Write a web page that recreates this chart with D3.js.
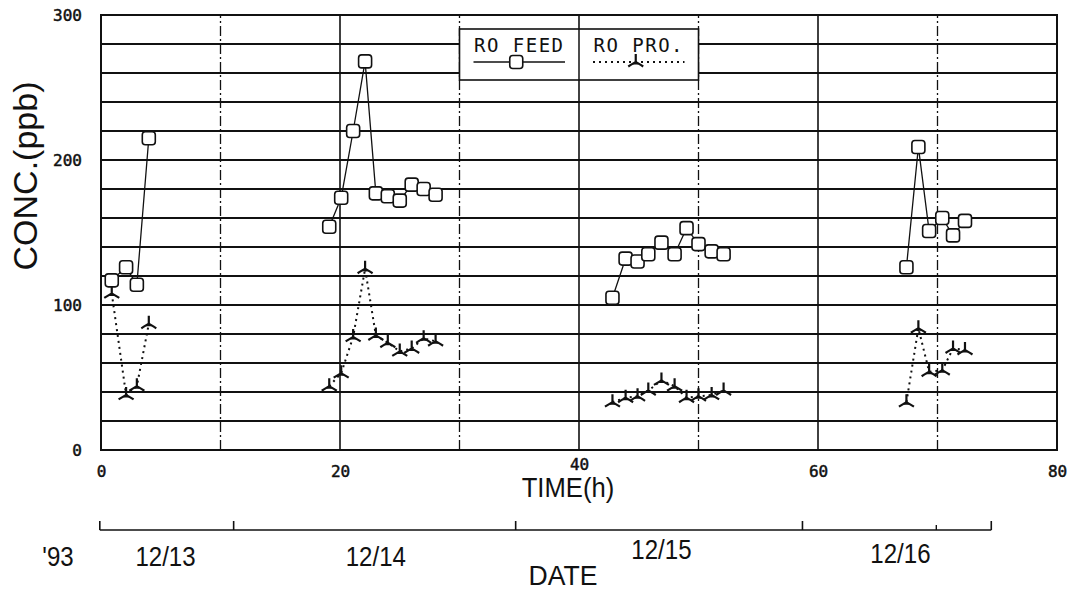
<!DOCTYPE html>
<html><head><meta charset="utf-8">
<script src="https://cdn.jsdelivr.net/npm/d3@7"></script>
<style>body{margin:0;background:#fff} svg{display:block}</style>
</head><body><svg id="c" width="1078" height="591"></svg>
<script>
// ---- data ----
const yTicks = [0, 100, 200, 300];
const xTicks = [0, 20, 40, 60, 80];
const hours13 = [0.9, 2.1, 3.0, 4.0];
const feed13  = [117, 126, 114, 215];
const pro13   = [108, 38, 44, 87];
const hours14 = [19.1, 20.1, 21.1, 22.1, 23.0, 24.0, 25.0, 26.0, 27.0, 28.0];
const feed14  = [154, 174, 220, 268, 177, 175, 172, 183, 180, 176];
const pro14   = [44, 53, 78, 125, 79, 74, 68, 70, 77, 75];
const hours15 = [42.8, 43.9, 44.9, 45.8, 46.9, 48.0, 49.0, 50.0, 51.1, 52.1];
const feed15  = [105, 132, 130, 135, 143, 135, 153, 142, 137, 135];
const pro15   = [33, 36, 37, 41, 48, 44, 36, 37, 38, 41];
const hours16 = [67.4, 68.4, 69.3, 70.4, 71.3, 72.3];
const feed16  = [126, 209, 151, 160, 148, 158];
const pro16   = [33, 84, 54, 55, 70, 69];
const dateLabels = ["12/13", "12/14", "12/15", "12/16"];
const dateLabelHours = [5.4, 23.0, 46.9, 66.9];
const dayBreakHours = [11.1, 34.7, 58.7];
const minorDateTicks = [69.9];
const dateAxisSpan = [-0.1, 74.5];
const legendNames = ["RO FEED", "RO PRO."];

const groups = [
  {h: hours13, f: feed13, p: pro13},
  {h: hours14, f: feed14, p: pro14},
  {h: hours15, f: feed15, p: pro15},
  {h: hours16, f: feed16, p: pro16}
];

// ---- layout ----
const svg = d3.select("#c");
const x = d3.scaleLinear([0, 80], [101, 1057]);
const y = d3.scaleLinear([0, 300], [450, 15]);
const ink = "#111";
const numFont = "'DejaVu Sans Mono', monospace";
const txtFont = "'Liberation Sans', Arial, sans-serif";

function label(px, py, txt, size, sx, rot) {
  return svg.append("text")
    .attr("transform", `translate(${px},${py}) rotate(${rot || 0}) scale(${sx},1)`)
    .attr("text-anchor", "middle").attr("font-family", txtFont)
    .attr("font-size", size).attr("fill", ink).text(txt);
}

// horizontal grid
svg.append("g").selectAll("line").data(d3.range(20, 300, 20)).join("line")
  .attr("x1", x(0)).attr("x2", x(80)).attr("y1", d => y(d)).attr("y2", d => y(d))
  .attr("stroke", ink).attr("stroke-width", 2.2);
// vertical grid
svg.append("g").selectAll("line").data(d3.range(10, 80, 10)).join("line")
  .attr("x1", d => x(d)).attr("x2", d => x(d)).attr("y1", y(0)).attr("y2", y(300))
  .attr("stroke", ink).attr("stroke-width", d => d % 20 ? 1.3 : 1.6)
  .attr("stroke-dasharray", d => d % 20 ? "10,3,2,3" : null);
// frame
svg.append("rect").attr("x", x(0)).attr("y", y(300)).attr("width", x(80) - x(0)).attr("height", y(0) - y(300))
  .attr("fill", "none").attr("stroke", ink).attr("stroke-width", 2);

// axes labels
const ya = svg.append("g").attr("transform", `translate(${x(0)},0)`)
  .call(d3.axisLeft(y).tickValues(yTicks).tickSize(0).tickPadding(19));
ya.select(".domain").remove();
const xa = svg.append("g").attr("transform", `translate(0,${y(0)})`)
  .call(d3.axisBottom(x).tickValues(xTicks).tickSize(0).tickPadding(16));
xa.select(".domain").remove();
xa.selectAll(".tick").filter(d => d === 40).select("text").attr("dy", "0.25em");
svg.selectAll(".tick text").attr("font-family", numFont).attr("font-size", 16)
  .attr("stroke", ink).attr("stroke-width", 0.5).attr("fill", ink);

label(37, 176, "CONC.(ppb)", 34, 1, -90);
label(568, 497, "TIME(h)", 27, 0.95, 0);

// series
const line = d3.line().x(d => x(d[0])).y(d => y(d[1]));
const sq = 13;
const triPath = "M0,-8L0,0M-7.5,4.5Q-2,1 0,0Q2,1 7.5,4.5";
function tri(sel) {
  sel.append("path").attr("d", triPath).attr("fill", "none").attr("stroke", ink).attr("stroke-width", 2.2);
  sel.append("path").attr("d", "M-3,2.5L0,-1.5L3,2.5Z").attr("fill", ink);
}
function square(sel) {
  sel.append("rect").attr("x", -sq / 2).attr("y", -sq / 2).attr("width", sq).attr("height", sq)
    .attr("rx", 3).attr("fill", "#fff").attr("stroke", ink).attr("stroke-width", 1.6);
}
groups.forEach(g => {
  const fpts = g.h.map((h, i) => [h, g.f[i]]);
  const ppts = g.h.map((h, i) => [h, g.p[i]]);
  svg.append("path").attr("d", line(ppts)).attr("fill", "none").attr("stroke", ink)
    .attr("stroke-width", 2).attr("stroke-dasharray", "2,4");
  svg.append("path").attr("d", line(fpts)).attr("fill", "none").attr("stroke", ink).attr("stroke-width", 1.3);
  svg.append("g").selectAll("g").data(ppts).join("g")
    .attr("transform", d => `translate(${x(d[0])},${y(d[1])})`).call(tri);
  svg.append("g").selectAll("g").data(fpts).join("g")
    .attr("transform", d => `translate(${x(d[0])},${y(d[1])})`).call(square);
});

// legend
const lg = svg.append("g");
lg.append("rect").attr("x", x(30)).attr("y", 29).attr("width", x(50) - x(30)).attr("height", 51)
  .attr("fill", "#fff").attr("stroke", ink).attr("stroke-width", 1.6);
lg.append("line").attr("x1", x(40)).attr("x2", x(40)).attr("y1", 29).attr("y2", 80).attr("stroke", ink).attr("stroke-width", 1.5);
legendNames.forEach((n, i) => {
  const x0 = i === 0 ? x(30) : x(40), x1 = i === 0 ? x(40) : x(50);
  const cx = (x0 + x1) / 2;
  lg.append("text").attr("x", cx).attr("y", 52).attr("text-anchor", "middle")
    .attr("font-family", numFont).attr("font-size", 19).attr("letter-spacing", 1.5)
    .attr("fill", ink).text(n);
  lg.append("line").attr("x1", x0 + 14).attr("x2", x1 - 14).attr("y1", 62).attr("y2", 62)
    .attr("stroke", ink).attr("stroke-width", i === 0 ? 1.3 : 2)
    .attr("stroke-dasharray", i === 0 ? null : "2,4");
  const m = lg.append("g").attr("transform", `translate(${cx - 3},62)`);
  if (i === 0) square(m); else tri(m);
});

// date axis
const dy = 530;
const da = svg.append("g");
da.append("line").attr("x1", x(dateAxisSpan[0])).attr("x2", x(dateAxisSpan[1])).attr("y1", dy).attr("y2", dy)
  .attr("stroke", ink).attr("stroke-width", 1.6);
da.selectAll(".major").data(dateAxisSpan.concat(dayBreakHours)).join("line")
  .attr("x1", d => x(d)).attr("x2", d => x(d)).attr("y1", dy).attr("y2", dy - 9)
  .attr("stroke", ink).attr("stroke-width", 1.6);
da.selectAll(".minor").data(minorDateTicks).join("line")
  .attr("x1", d => x(d)).attr("x2", d => x(d)).attr("y1", dy).attr("y2", dy - 5)
  .attr("stroke", ink).attr("stroke-width", 1.4);
const dateBase = [566, 566, 559, 563];
dateLabels.forEach((d, i) => label(x(dateLabelHours[i]), dateBase[i], d, 28, 0.86, 0));
label(58, 566, "'93", 28, 0.86, 0);
label(563, 585, "DATE", 28, 0.95, 0);
</script>
</body></html>
